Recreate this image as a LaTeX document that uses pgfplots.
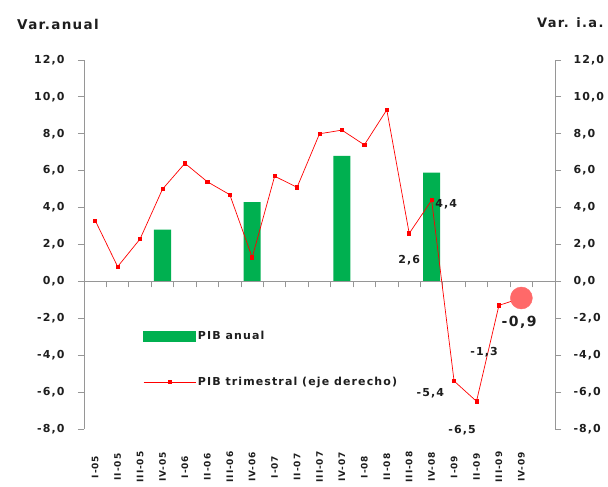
\documentclass[border=0pt]{standalone}
\usepackage{fontspec}
\setmainfont{DejaVu Sans}[LetterSpace=10]
\usepackage{pgfplots}
\pgfplotsset{compat=1.18}

\definecolor{pibgreen}{RGB}{0,176,80}
\definecolor{pibred}{RGB}{255,0,0}
\definecolor{dotred}{RGB}{255,105,105}
\definecolor{axgray}{RGB}{150,150,150}
\definecolor{txt}{RGB}{30,30,30}

\pgfplotsset{
  common/.style={
    at={(84pt,58pt)}, anchor=south west,
    scale only axis, width=471pt, height=369pt,
    xmin=-0.5, xmax=20.5, ymin=-8, ymax=12,
    ytick={-8,-6,...,12},
    axis line style={axgray, line width=0.8pt},
    tick style={axgray, line width=0.8pt},
    major tick length=6pt,
    tick align=outside,
    ticklabel style={font=\bfseries\fontsize{11}{13}\selectfont, text=txt},
    /pgf/number format/.cd, fixed, fixed zerofill, precision=1, use comma, assume math mode=true,
  },
}

\begin{document}
\begin{tikzpicture}
\path[use as bounding box] (0,0) rectangle (608pt,487pt);

% barras: PIB anual (eje izquierdo)
\begin{axis}[common,
  axis y line*=left,
  axis x line*=bottom,
  x axis line style={draw=none},
  xtick={0,...,19},
  xticklabels={I-05,II-05,III-05,IV-05,I-06,II-06,III-06,IV-06,I-07,II-07,III-07,IV-07,I-08,II-08,III-08,IV-08,I-09,II-09,III-09,IV-09},
  major x tick style={draw=none},
  xticklabel style={font=\bfseries\fontsize{9}{10}\selectfont, rotate=90, anchor=center},
  xticklabel shift=32pt,
  yticklabel style={xshift=-10pt},
]
\addplot[ybar, bar width=17pt, fill=pibgreen, draw=none] coordinates {
  (3,2.8) (7,4.3) (11,6.8) (15,5.9)
};
\end{axis}

% linea: PIB trimestral (eje derecho)
\begin{axis}[common,
  axis y line*=right,
  axis x line*=middle,
  xtick={-0.5,0.5,...,20.5},
  xticklabels={},
  yticklabel style={xshift=9pt},
  clip=false,
  legend style={at={(0.119,0.276)}, anchor=north west, draw=none, fill=none,
    font=\bfseries\fontsize{11}{13}\selectfont, text=txt, row sep=32pt},
  legend cell align=left,
]
\addlegendimage{legend image code/.code={\fill[pibgreen] (0pt,-5pt) rectangle (52pt,5pt);}}
\addlegendentry{PIB anual}
\addplot[pibred, line width=0.7pt, mark=square*, mark size=1.6pt,
  legend image code/.code={\draw[pibred, line width=0.7pt] (0pt,0pt) -- (52pt,0pt);
    \draw[pibred, mark=square*, mark size=1.6pt, only marks] plot coordinates {(26pt,0pt)};}] coordinates {
  (0,3.3) (1,0.8) (2,2.3) (3,5.0) (4,6.4) (5,5.4) (6,4.7) (7,1.3)
  (8,5.7) (9,5.1) (10,8.0) (11,8.2) (12,7.4) (13,9.3) (14,2.6) (15,4.4)
  (16,-5.4) (17,-6.5) (18,-1.3) (19,-0.9)
};
\addlegendentry{PIB trimestral (eje derecho)}
\addplot[forget plot, only marks, mark=*, mark size=11pt, dotred, mark options={draw=dotred, fill=dotred}]
  coordinates {(19,-0.9)};

\begin{scope}[font=\bfseries\fontsize{11}{13}\selectfont, text=txt]
\node at (axis cs:14.0,1.14) {2,6};
\node at (axis cs:15.65,4.17) {4,4};
\node at (axis cs:14.94,-6.07) {-5,4};
\node at (axis cs:16.36,-8.08) {-6,5};
\node at (axis cs:17.34,-3.85) {-1,3};
\node[font=\bfseries\fontsize{14}{16}\selectfont] at (axis cs:18.9,-2.22) {-0,9};
\end{scope}
\end{axis}

\node[font=\bfseries\fontsize{13.5}{15}\selectfont, text=txt] at (58pt,463pt) {Var.anual};
\node[font=\bfseries\fontsize{13}{15}\selectfont, text=txt, anchor=east] at (607pt,464pt) {Var. i.a.};
\end{tikzpicture}
\end{document}
